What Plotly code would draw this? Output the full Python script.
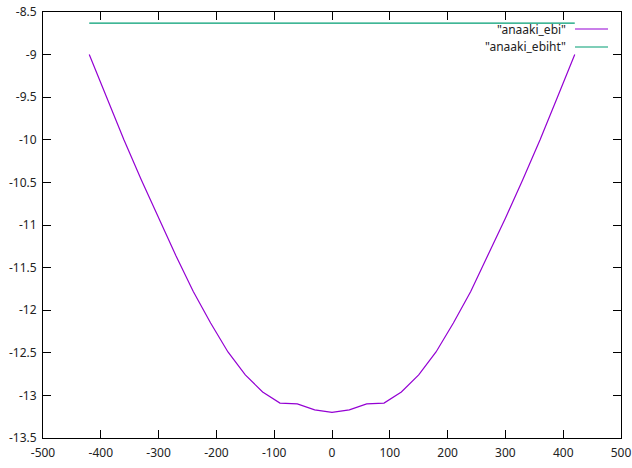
import plotly.graph_objects as go

x_vals = [-420, -390, -360, -330, -300, -270, -240, -210, -180, -150, -120, -90, -60, -30, 0,
          30, 60, 90, 120, 150, 180, 210, 240, 270, 300, 330, 360, 390, 420]
ebi = [-9.0, -9.5, -10.0, -10.47, -10.92, -11.36, -11.78, -12.15, -12.49, -12.76, -12.96, -13.09, -13.10, -13.17, -13.20,
       -13.17, -13.10, -13.09, -12.96, -12.76, -12.49, -12.15, -11.78, -11.36, -10.92, -10.47, -10.0, -9.5, -9.0]
ebiht = [-8.63] * len(x_vals)
names = ['"anaaki_ebi"', '"anaaki_ebiht"']
colors = ["#9400D3", "#009E73"]
x_ticks = list(range(-500, 501, 100))
y_ticks = [-8.5, -9, -9.5, -10, -10.5, -11, -11.5, -12, -12.5, -13, -13.5]

FONT = "Noto Sans"
fig = go.Figure()
for nm, ys, c in zip(names, [ebi, ebiht], colors):
    fig.add_trace(go.Scatter(x=x_vals, y=ys, mode="lines", name=nm,
                             line=dict(color=c, width=1.2), showlegend=False))

# gnuplot-style legend (text right, sample line to the right)
for i, (nm, c) in enumerate(zip(names, colors)):
    ypix = 29 + 18 * i
    yp = 1 - (ypix - 12) / 426
    fig.add_annotation(x=(568 - 43) / 578, y=yp, xref="paper", yref="paper",
                       text=nm, showarrow=False, xanchor="right", yanchor="middle",
                       font=dict(family=FONT, size=12, color="#222"))
    fig.add_shape(type="line", xref="paper", yref="paper",
                  x0=(575 - 43) / 578, x1=(608 - 43) / 578, y0=yp, y1=yp,
                  line=dict(color=c, width=1.2))

fig.update_layout(
    width=632, height=468,
    margin=dict(l=43, r=11, t=12, b=30, autoexpand=False),
    paper_bgcolor="white", plot_bgcolor="white",
    font=dict(family=FONT, size=12, color="#222"),
    showlegend=False,
)
fig.update_xaxes(range=[-500, 500], tickvals=x_ticks, ticktext=[str(v) for v in x_ticks],
                 showgrid=False, zeroline=False, showline=True, linecolor="black", linewidth=1,
                 mirror="ticks", ticks="inside", ticklen=8, tickcolor="black", tickwidth=1,
                 automargin=False, ticklabelstandoff=4)
fig.update_yaxes(range=[-13.5, -8.5], tickvals=y_ticks, ticktext=[f"{v:g}" for v in y_ticks],
                 showgrid=False, zeroline=False, showline=True, linecolor="black", linewidth=1,
                 mirror="ticks", ticks="inside", ticklen=8, tickcolor="black", tickwidth=1,
                 automargin=False, ticklabelstandoff=3)

fig.write_html("out.html", config={"displayModeBar": False},
               post_script="document.body.style.margin='0';document.body.style.overflow='hidden';")
